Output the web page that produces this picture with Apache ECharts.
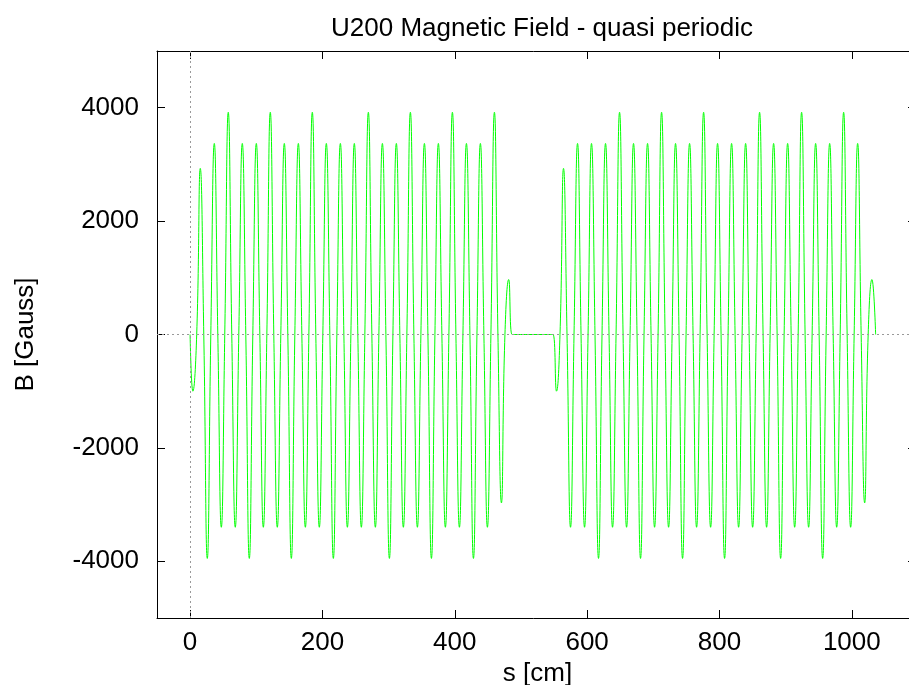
<!DOCTYPE html>
<html>
<head>
  <meta charset="utf-8">
  <title>U200 Magnetic Field</title>
  <script src="https://cdn.jsdelivr.net/npm/echarts@6/dist/echarts.min.js"></script>
  <style>
    html, body { margin: 0; padding: 0; background: #fff; }
    #myfield { width: 909px; height: 685px; }
  </style>
</head>
<body>
<div id="myfield"></div>
<script>
  // first undulator section: s [cm] and B [Gauss] at extrema and zero crossings
  const s1 = [0, 4.2, 10.0, 15.4, 20.7, 26.0, 31.3, 36.6, 41.9, 47.2,
    52.4, 57.7, 63.0, 68.3, 73.6, 78.9, 84.2, 89.5, 94.8, 100.1,
    105.4, 110.7, 116.0, 121.2, 126.5, 131.8, 137.1, 142.4, 147.7, 153.0,
    158.3, 163.6, 168.9, 174.2, 179.5, 184.7, 190.0, 195.3, 200.6, 205.9,
    211.2, 216.5, 221.8, 227.1, 232.4, 237.7, 243.0, 248.2, 253.5, 258.8,
    264.1, 269.4, 274.7, 280.0, 285.3, 290.6, 295.9, 301.2, 306.5, 311.7,
    317.0, 322.3, 327.6, 332.9, 338.2, 343.5, 348.8, 354.1, 359.4, 364.7,
    370.0, 375.2, 380.5, 385.8, 391.1, 396.4, 401.7, 407.0, 412.3, 417.6,
    422.9, 428.2, 433.5, 438.7, 444.0, 449.3, 454.6, 459.9, 465.2, 470.5,
    475.8, 481.5, 486.5, 490.0];
  const b1 = [0, -1000, 0, 2930, 0, -3950, 0, 3370, 0, -3400,
    0, 3920, 0, -3400, 0, 3370, 0, -3950, 0, 3370,
    0, -3400, 0, 3920, 0, -3400, 0, 3370, 0, -3950,
    0, 3370, 0, -3400, 0, 3920, 0, -3400, 0, 3370,
    0, -3950, 0, 3370, 0, -3400, 0, 3370, 0, -3400,
    0, 3920, 0, -3400, 0, 3370, 0, -3950, 0, 3370,
    0, -3400, 0, 3920, 0, -3400, 0, 3370, 0, -3950,
    0, 3370, 0, -3400, 0, 3920, 0, -3400, 0, 3370,
    0, -3950, 0, 3370, 0, -3400, 0, 3920, 0, -2970,
    0, 970, 0, 0];

  // second undulator section
  const s2 = [545.0, 548.5, 553.7, 559.0, 564.3, 569.6, 574.9, 580.2, 585.5, 590.8,
    596.1, 601.4, 606.6, 611.9, 617.2, 622.5, 627.8, 633.1, 638.4, 643.7,
    649.0, 654.3, 659.6, 664.9, 670.1, 675.4, 680.7, 686.0, 691.3, 696.6,
    701.9, 707.2, 712.5, 717.8, 723.1, 728.4, 733.6, 738.9, 744.2, 749.5,
    754.8, 760.1, 765.4, 770.7, 776.0, 781.3, 786.6, 791.9, 797.1, 802.4,
    807.7, 813.0, 818.3, 823.6, 828.9, 834.2, 839.5, 844.8, 850.1, 855.4,
    860.6, 865.9, 871.2, 876.5, 881.8, 887.1, 892.4, 897.7, 903.0, 908.3,
    913.6, 918.9, 924.1, 929.4, 934.7, 940.0, 945.3, 950.6, 955.9, 961.2,
    966.5, 971.8, 977.1, 982.4, 987.6, 992.9, 998.2, 1003.5, 1008.8, 1014.1,
    1019.4, 1024.7, 1030.4, 1036.0];
  const b2 = [0, 0, -1000, 0, 2930, 0, -3400, 0, 3370, 0,
    -3400, 0, 3370, 0, -3950, 0, 3370, 0, -3400, 0,
    3920, 0, -3400, 0, 3370, 0, -3950, 0, 3370, 0,
    -3400, 0, 3920, 0, -3400, 0, 3370, 0, -3950, 0,
    3370, 0, -3400, 0, 3920, 0, -3400, 0, 3370, 0,
    -3950, 0, 3370, 0, -3400, 0, 3370, 0, -3400, 0,
    3920, 0, -3400, 0, 3370, 0, -3950, 0, 3370, 0,
    -3400, 0, 3920, 0, -3400, 0, 3370, 0, -3950, 0,
    3370, 0, -3400, 0, 3920, 0, -3400, 0, 3370, 0,
    -2970, 0, 970, 0];

  const xTicks = [0, 200, 400, 600, 800, 1000];
  const yTicks = [-4000, -2000, 0, 2000, 4000];

  const fieldData = s1.map((s, i) => [s, b1[i]])
    .concat(s2.map((s, i) => [s, b2[i]]));

  const fontFamily = '"Liberation Sans", Helvetica, Arial, sans-serif';
  // gnuplot style box: lines stay on the grid edges, ticks point inward
  const frame = { show: true, onZero: false, lineStyle: { color: '#000', width: 1 } };
  const tickIn = (vals, len) => ({
    show: true, inside: true, length: len || 8, customValues: vals,
    lineStyle: { color: '#000', width: 1 }
  });
  const plainLabel = (vals, margin) => ({
    customValues: vals, fontSize: 26, margin: margin, color: '#000', fontFamily: fontFamily,
    formatter: (v) => String(v)
  });

  const chartOption = {
    animation: false,
    textStyle: { fontFamily: fontFamily, color: '#000' },
    title: {
      text: 'U200 Magnetic Field - quasi periodic',
      left: 537,
      top: 11,
      textAlign: 'center',
      textStyle: { fontFamily: fontFamily, fontSize: 26, fontWeight: 'normal', color: '#000' }
    },
    // the right edge of the box sits just outside the picture, as in the original
    grid: { left: 157, right: -9, top: 51, bottom: 67, outerBoundsMode: 'none', containLabel: false },
    xAxis: [
      {
        type: 'value', position: 'bottom', min: -50, max: 1100,
        axisLine: frame, axisTick: tickIn(xTicks),
        axisLabel: plainLabel(xTicks, 12),
        splitLine: { show: false },
        name: 's [cm]', nameLocation: 'middle', nameGap: 43,
        nameTextStyle: { fontSize: 26, color: '#000', fontFamily: fontFamily }
      },
      {
        type: 'value', position: 'top', min: -50, max: 1100,
        axisLine: frame, axisTick: tickIn(xTicks),
        axisLabel: { show: false }, splitLine: { show: false }
      }
    ],
    yAxis: [
      {
        type: 'value', position: 'left', min: -5000, max: 5000,
        axisLine: frame, axisTick: tickIn(yTicks),
        axisLabel: plainLabel(yTicks, 18),
        splitLine: { show: false },
        name: 'B [Gauss]', nameLocation: 'middle', nameGap: 118,
        nameTextStyle: { fontSize: 26, color: '#000', fontFamily: fontFamily }
      },
      {
        // off-picture right edge: only the tick tips reach into view
        type: 'value', position: 'right', min: -5000, max: 5000,
        axisLine: { show: false, onZero: false }, axisTick: tickIn(yTicks, 10),
        axisLabel: { show: false }, splitLine: { show: false }
      }
    ],
    series: [
      {
        // dotted zero axes
        type: 'line', data: [], z: 1, silent: true,
        markLine: {
          silent: true, symbol: ['none', 'none'], animation: false,
          label: { show: false },
          lineStyle: { color: '#999', width: 1, type: [2, 3] },
          data: [{ xAxis: 0 }, { yAxis: 0 }]
        }
      },
      {
        name: 'B', type: 'line', z: 3,
        data: fieldData,
        showSymbol: false,
        smooth: 0.5,
        lineStyle: { color: '#00ff00', width: 1 }
      }
    ]
  };

  const myfield = echarts.init(document.getElementById('myfield'));
  myfield.setOption(chartOption);
</script>
</body>
</html>
